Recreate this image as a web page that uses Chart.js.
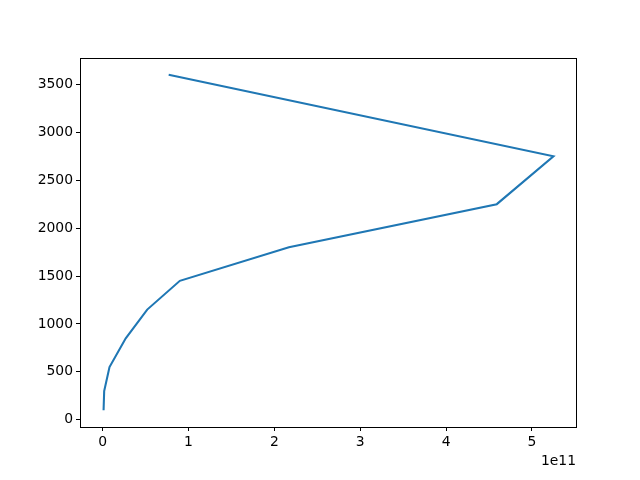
<!DOCTYPE html>
<html>
<head>
<meta charset="utf-8">
<script src="https://cdn.jsdelivr.net/npm/chart.js@4/dist/chart.umd.min.js"></script>
<style>
html, body { margin: 0; padding: 0; background: #fff; }
canvas { display: block; }
</style>
</head>
<body>
<canvas id="c" width="640" height="480"></canvas>
<script>
// Data
const depths = [100, 300, 550, 850, 1150, 1450, 1800, 2250, 2750, 3600];
const values = [1.2e9, 1.9e9, 8.1e9, 2.7e10, 5.2e10, 9.0e10, 2.17e11, 4.59e11, 5.25e11, 7.7e10];
const xTickValues = [0, 1, 2, 3, 4, 5]; // in units of 1e11
const yTickValues = [0, 500, 1000, 1500, 2000, 2500, 3000, 3500];
const xScaleFactor = 1e11;
const offsetText = '1e11';

const points = values.map((v, i) => ({ x: v, y: depths[i] }));
const FONT = { family: 'DejaVu Sans', size: 13.9 };

const boxPlugin = {
  id: 'box',
  afterDraw(chart) {
    const { ctx, chartArea: a } = chart;
    ctx.save();
    ctx.strokeStyle = '#000';
    ctx.lineWidth = 1;
    ctx.strokeRect(Math.round(a.left) + 0.5, Math.round(a.top) + 0.5,
                   Math.round(a.right - a.left), Math.round(a.bottom - a.top));
    ctx.fillStyle = '#000';
    ctx.font = '13.9px "DejaVu Sans"';
    ctx.textAlign = 'right';
    ctx.textBaseline = 'middle';
    ctx.fillText(offsetText, a.right, 461);
    ctx.restore();
  }
};

new Chart(document.getElementById('c'), {
  type: 'scatter',
  data: {
    datasets: [{
      data: points,
      showLine: true,
      borderColor: '#1f77b4',
      borderWidth: 2.08,
      pointRadius: 0,
      fill: false,
      tension: 0
    }]
  },
  options: {
    responsive: false,
    animation: false,
    devicePixelRatio: 1,
    layout: { padding: { top: 58, right: 64, left: 0, bottom: 0 } },
    plugins: { legend: { display: false }, tooltip: { enabled: false } },
    scales: {
      x: {
        type: 'linear',
        min: -0.2625e11,
        max: 5.5125e11,
        afterBuildTicks(scale) { scale.ticks = xTickValues.map(v => ({ value: v * xScaleFactor })); },
        afterFit(scale) { scale.height = 53; },
        border: { display: false },
        grid: { display: true, drawOnChartArea: false, drawTicks: true, tickLength: 4, color: '#000', tickColor: '#000' },
        ticks: {
          color: '#000', font: FONT, padding: 3, maxRotation: 0, autoSkip: false,
          callback: (v) => String(Math.round(v / xScaleFactor))
        }
      },
      y: {
        type: 'linear',
        min: -75,
        max: 3775,
        afterBuildTicks(scale) { scale.ticks = yTickValues.map(v => ({ value: v })); },
        afterFit(scale) { scale.width = 80; },
        border: { display: false },
        grid: { display: true, drawOnChartArea: false, drawTicks: true, tickLength: 4, color: '#000', tickColor: '#000' },
        ticks: {
          color: '#000', font: FONT, padding: 3, autoSkip: false,
          callback: (v) => String(v)
        }
      }
    }
  },
  plugins: [boxPlugin]
});
</script>
</body>
</html>
